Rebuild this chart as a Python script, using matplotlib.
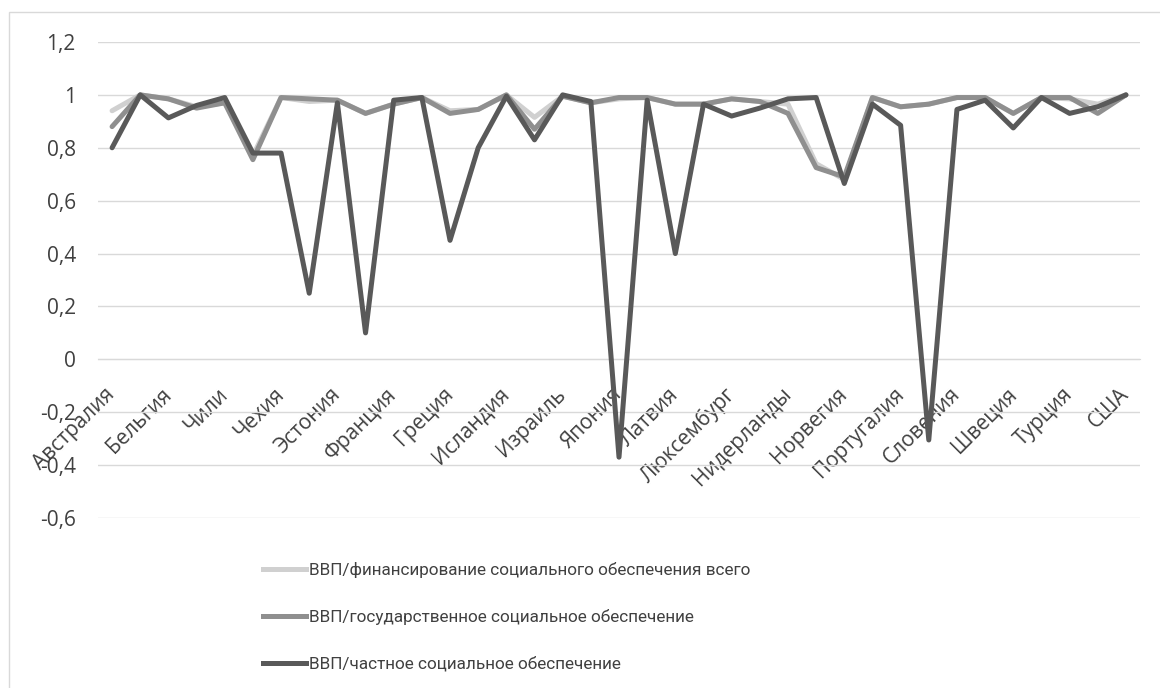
import matplotlib.pyplot as plt
from matplotlib.patches import Rectangle
from matplotlib.lines import Line2D

plt.rcParams['font.family'] = ['Open Sans', 'DejaVu Sans']

countries = ['Австралия', 'Австрия', 'Бельгия', 'Канада', 'Чили', 'Колумбия',
             'Чехия', 'Дания', 'Эстония', 'Финляндия', 'Франция', 'Германия',
             'Греция', 'Венгрия', 'Исландия', 'Ирландия', 'Израиль', 'Италия',
             'Япония', 'Корея', 'Латвия', 'Литва', 'Люксембург', 'Мексика',
             'Нидерланды', 'Новая Зеландия', 'Норвегия', 'Польша', 'Португалия',
             'Словакия', 'Словения', 'Испания', 'Швеция', 'Швейцария', 'Турция',
             'Великобритания', 'США']

total = [0.94, 1.0, 0.985, 0.955, 0.97, 0.77, 0.99, 0.975, 0.98, 0.93,
         0.965, 0.99, 0.94, 0.945, 1.0, 0.915, 0.995, 0.97, 0.985, 0.99,
         0.965, 0.965, 0.985, 0.975, 0.965, 0.74, 0.68, 0.99, 0.955, 0.965,
         0.99, 0.99, 0.93, 0.99, 0.985, 0.965, 1.0]
state = [0.88, 1.0, 0.985, 0.95, 0.97, 0.755, 0.99, 0.985, 0.98, 0.93,
         0.965, 0.99, 0.93, 0.945, 1.0, 0.87, 0.995, 0.97, 0.99, 0.99,
         0.965, 0.965, 0.985, 0.975, 0.93, 0.725, 0.69, 0.99, 0.955, 0.965,
         0.99, 0.99, 0.93, 0.99, 0.99, 0.93, 1.0]
private = [0.80, 1.0, 0.913, 0.96, 0.99, 0.78, 0.78, 0.25, 0.97, 0.10,
           0.98, 0.99, 0.45, 0.80, 0.995, 0.83, 1.0, 0.975, -0.37, 0.98,
           0.40, 0.965, 0.92, 0.95, 0.985, 0.99, 0.665, 0.965, 0.885, -0.305,
           0.945, 0.98, 0.875, 0.99, 0.93, 0.955, 1.0]

labels = ['ВВП/финансирование социального обеспечения всего',
          'ВВП/государственное социальное обеспечение',
          'ВВП/частное социальное обеспечение']
colors = ['#d0d0d0', '#8f8f8f', '#595959']
yticks = [-0.6, -0.4, -0.2, 0, 0.2, 0.4, 0.6, 0.8, 1, 1.2]

W, H = 1160, 688
fig = plt.figure(figsize=(W/100, H/100), dpi=100)
ax = fig.add_axes([98/W, 1-518/H, (1140-98)/W, (518-42)/H])

fig.patches.append(Rectangle((9/W, -0.1), 1.2, 1-12/H+0.1, transform=fig.transFigure,
                             fill=False, edgecolor='#d9d9d9', lw=1.0))

x = list(range(len(countries)))
for series, c, lab in zip([total, state, private], colors, labels):
    ax.plot(x, series, color=c, lw=3.6, label=lab,
            solid_joinstyle='round', solid_capstyle='round', zorder=3)

ax.set_xlim(-0.5, len(countries)-0.5)
ax.set_ylim(-0.6, 1.2)
ax.set_yticks(yticks)
ax.set_yticklabels([('%g' % v).replace('.', ',') for v in yticks])
ax.grid(axis='y', color='#d9d9d9', lw=1.0, zorder=0)
for s in ['top', 'right', 'left']:
    ax.spines[s].set_visible(False)
ax.spines['bottom'].set_position(('data', 0))
ax.spines['bottom'].set_color('#d9d9d9')
ax.spines['bottom'].set_zorder(0)

ax.set_xticks(x[::2])
ax.set_xticklabels(countries[::2], rotation=45, ha='right', va='center',
                   rotation_mode='anchor')
ax.tick_params(axis='x', length=0, pad=23, labelsize=15, labelcolor='#404040')
ax.tick_params(axis='y', length=0, pad=16, labelsize=15, labelcolor='#404040')

handles = [Line2D([], [], color=c, lw=3.6) for c in colors]
fig.legend(handles, labels, loc='upper left', bbox_to_anchor=(263/W, 1-562/H),
           frameon=False, borderpad=0, borderaxespad=0, handlelength=2.5,
           handletextpad=0.18, labelspacing=1.82,
           prop={'family': ['Roboto', 'DejaVu Sans'], 'size': 12.3},
           labelcolor='#404040')

fig.savefig('out.png', dpi=100)
